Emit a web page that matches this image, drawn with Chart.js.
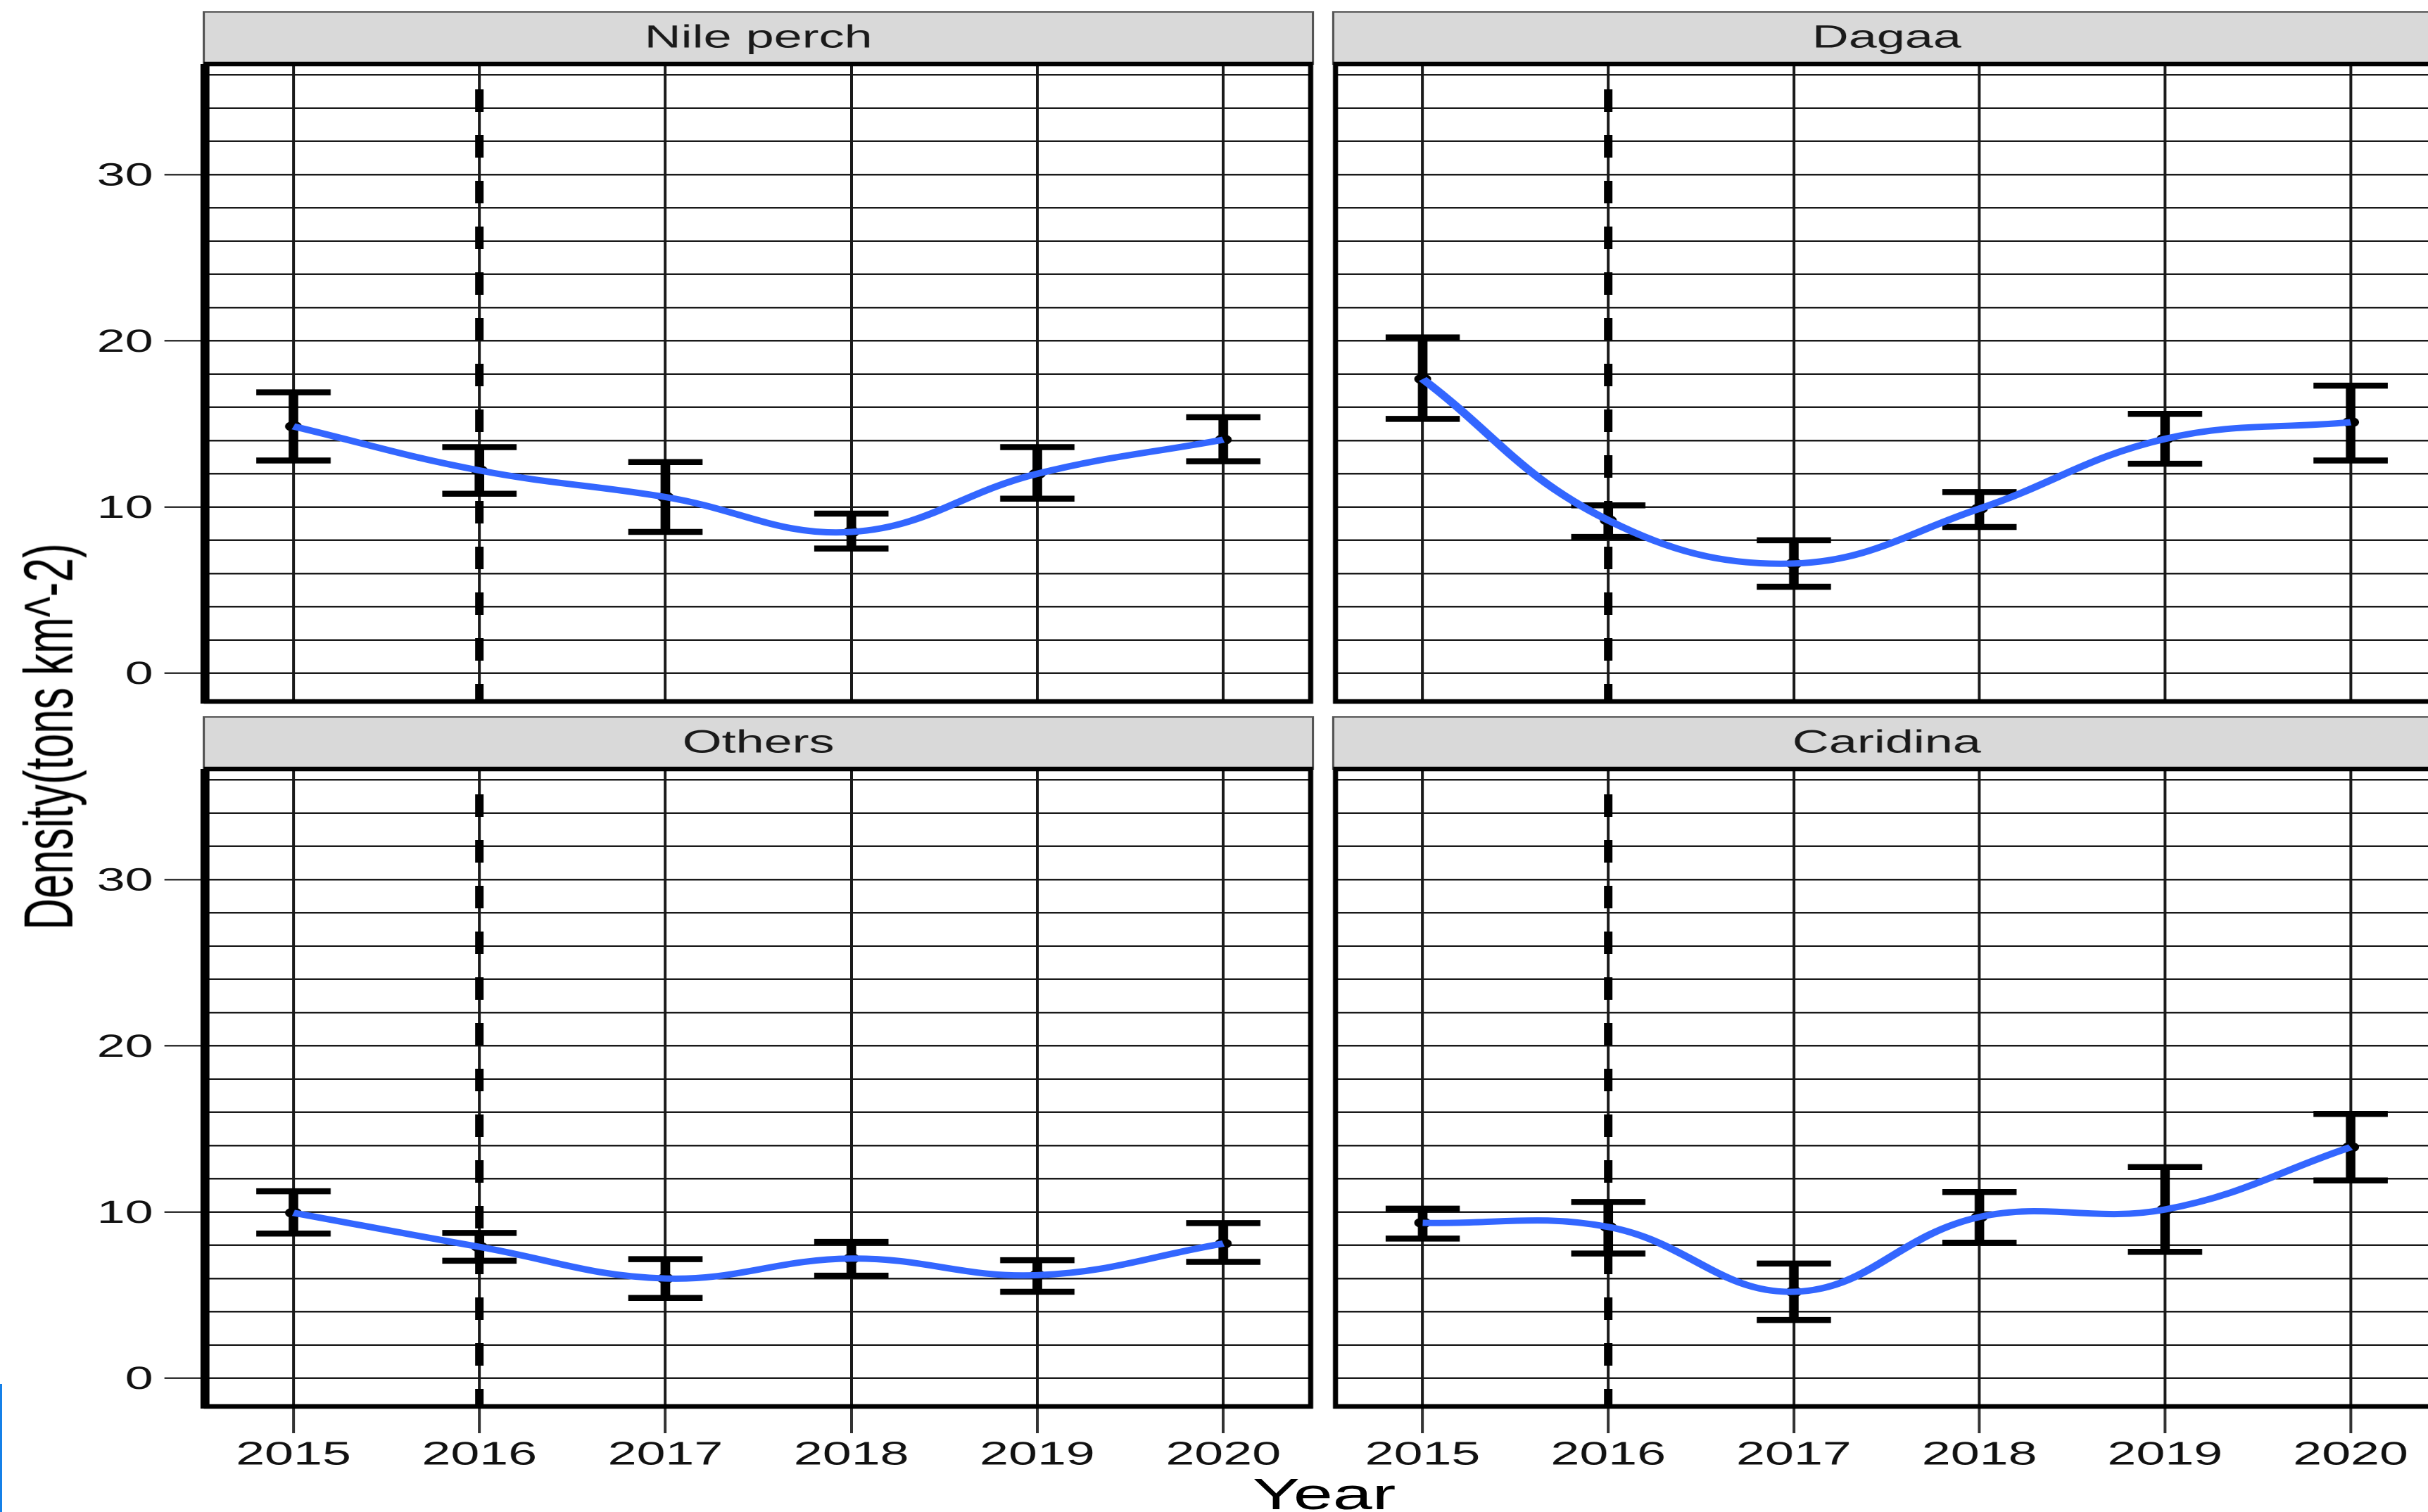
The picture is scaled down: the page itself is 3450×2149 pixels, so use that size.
<!DOCTYPE html>
<html>
<head>
<meta charset="utf-8">
<title>Density by year</title>
<script src="https://cdn.jsdelivr.net/npm/chart.js@4.4.1/dist/chart.umd.min.js"></script>
<style>
  html, body { margin: 0; padding: 0; background: #fff; overflow: hidden; width: 3450px; height: 2149px; }
  /* the source figure is stretched sideways, so the whole frame is too */
  #frame { position: absolute; left: 0; top: 0; width: 2157px; height: 2149px;
           transform: scaleX(1.6); transform-origin: 0 0;
           font-family: 'Liberation Sans', Arial, sans-serif; }
  #frame canvas { position: absolute; }
  .lbl { position: absolute; white-space: nowrap; color: #000; line-height: 1; }
  #ytitle { left: 43px; top: 1047px; font-size: 62px; transform: translate(-50%, -50%) rotate(-90deg); }
  #xtitle { left: 1176px; top: 2092px; font-size: 63px; line-height: 63px; transform: translateX(-50%); }
  #edge { position: absolute; left: 0; top: 1967px; width: 2px; height: 182px; background: #1580e8; }
</style>
</head>
<body>
<div id="frame">
  <canvas id="c-nile"></canvas>
  <canvas id="c-dagaa"></canvas>
  <canvas id="c-others"></canvas>
  <canvas id="c-caridina"></canvas>
  <div class="lbl" id="ytitle">Density(tons km^-2)</div>
  <div class="lbl" id="xtitle">Year</div>
  <div id="edge"></div>
</div>
<script>
// data
const years = [2015, 2016, 2017, 2018, 2019, 2020];
const yGrid = [0, 2, 4, 6, 8, 10, 12, 14, 16, 18, 20, 22, 24, 26, 28, 30, 32, 34, 36];
const yLabels = [0, 10, 20, 30];
const interventionYear = 2016;

const nilePerchMean = [14.85, 12.2, 10.6, 8.5, 12.0, 14.05];
const nilePerchLow  = [12.8, 10.8, 8.5, 7.5, 10.5, 12.75];
const nilePerchHigh = [16.9, 13.6, 12.7, 9.6, 13.6, 15.4];

const dagaaMean = [17.7, 9.2, 6.6, 9.9, 14.1, 15.1];
const dagaaLow  = [15.3, 8.2, 5.2, 8.8, 12.6, 12.8];
const dagaaHigh = [20.2, 10.1, 8.0, 10.9, 15.6, 17.3];

const othersMean = [9.95, 7.9, 6.0, 7.2, 6.2, 8.1];
const othersLow  = [8.7, 7.07, 4.83, 6.17, 5.2, 7.0];
const othersHigh = [11.25, 8.74, 7.16, 8.2, 7.1, 9.33];

const caridinaMean = [9.35, 9.1, 5.2, 9.7, 10.15, 13.9];
const caridinaLow  = [8.4, 7.5, 3.5, 8.15, 7.6, 11.9];
const caridinaHigh = [10.2, 10.6, 6.9, 11.2, 12.7, 15.9];

const xMin = 2014.53, xMax = 2020.47;
const yMin = -1.7, yMax = 36.65;
const capHalf = 0.2;
const font = "'Liberation Sans', Arial, sans-serif";

// strip, dashed line, error bars and panel border
const panelDecor = {
  id: 'panelDecor',
  beforeDraw(chart) {
    const a = chart.chartArea, t = chart.titleBlock, ctx = chart.ctx;
    ctx.save();
    ctx.fillStyle = '#d9d9d9';
    ctx.fillRect(a.left - 2, t.top, a.right - a.left + 4, a.top - t.top);
    ctx.strokeStyle = '#555';
    ctx.lineWidth = 2;
    ctx.strokeRect(a.left - 2, t.top + 1, a.right - a.left + 4, a.top - t.top - 1);
    ctx.restore();
  },
  beforeDatasetsDraw(chart) {
    const ctx = chart.ctx, a = chart.chartArea, x = chart.scales.x, y = chart.scales.y;
    ctx.save();
    const vx = x.getPixelForValue(interventionYear);
    ctx.strokeStyle = '#000';
    ctx.lineWidth = 7.5;
    ctx.setLineDash([32, 33]);
    ctx.beginPath();
    ctx.moveTo(vx, a.top + 36);
    ctx.lineTo(vx, a.bottom);
    ctx.stroke();
    ctx.setLineDash([]);

    const ds = chart.data.datasets.find(d => d.errorLow);
    ctx.lineWidth = 8.5;
    years.forEach((yr, i) => {
      const cx = x.getPixelForValue(yr);
      const x0 = x.getPixelForValue(yr - capHalf), x1 = x.getPixelForValue(yr + capHalf);
      const yl = y.getPixelForValue(ds.errorLow[i]), yh = y.getPixelForValue(ds.errorHigh[i]);
      ctx.beginPath();
      ctx.moveTo(cx, yl); ctx.lineTo(cx, yh);
      ctx.moveTo(x0, yl); ctx.lineTo(x1, yl);
      ctx.moveTo(x0, yh); ctx.lineTo(x1, yh);
      ctx.stroke();
    });
    ctx.restore();
  },
  afterDatasetsDraw(chart, args, opts) {
    const ctx = chart.ctx, a = chart.chartArea;
    ctx.save();
    ctx.strokeStyle = '#000';
    ctx.lineWidth = 6.5;
    ctx.beginPath();
    ctx.moveTo(a.left - 2, a.top); ctx.lineTo(a.right + 2, a.top);
    ctx.moveTo(a.left - 2, a.bottom); ctx.lineTo(a.right + 2, a.bottom);
    ctx.stroke();
    ctx.lineWidth = 4.5;
    ctx.beginPath();
    ctx.moveTo(a.right, a.top); ctx.lineTo(a.right, a.bottom + 3);
    ctx.moveTo(a.left, a.top); ctx.lineTo(a.left, a.bottom + 3);
    ctx.stroke();
    if (opts.thickLeft) {
      ctx.lineWidth = 8;
      ctx.beginPath();
      ctx.moveTo(a.left - 1, a.top); ctx.lineTo(a.left - 1, a.bottom + 3);
      ctx.stroke();
    }
    ctx.restore();
  }
};

function makePanel(id, title, mean, low, high, box) {
  const canvas = document.getElementById(id);
  canvas.width = box.w;
  canvas.height = box.h;
  canvas.style.left = box.x + 'px';
  canvas.style.top = box.y + 'px';

  return new Chart(canvas, {
    type: 'line',
    data: {
      datasets: [{
        label: 'smooth',
        data: years.map((yr, i) => ({ x: yr, y: mean[i] })),
        borderColor: '#3366FF',
        borderWidth: 9,
        tension: 0.4,
        pointRadius: 0,
        fill: false,
        order: 0
      }, {
        label: 'mean',
        data: years.map((yr, i) => ({ x: yr, y: mean[i] })),
        showLine: false,
        pointRadius: 7.5,
        pointBackgroundColor: '#000',
        pointBorderWidth: 0,
        order: 1,
        errorLow: low,
        errorHigh: high
      }]
    },
    options: {
      responsive: false,
      animation: false,
      devicePixelRatio: 2,
      layout: { padding: box.pad },
      plugins: {
        legend: { display: false },
        tooltip: { enabled: false },
        title: {
          display: true,
          text: title,
          fullSize: false,
          color: '#1a1a1a',
          font: { family: font, size: 45, weight: 'normal' },
          padding: { top: 12, bottom: 9 }
        },
        panelDecor: { thickLeft: box.leftAxis }
      },
      scales: {
        x: {
          type: 'linear',
          min: xMin,
          max: xMax,
          afterBuildTicks: s => { s.ticks = years.map(v => ({ value: v })); },
          afterFit: s => {
            s.height = box.bottomAxis ? 100 : 0;
            s.paddingLeft = 0;
            s.paddingRight = 0;
          },
          border: { display: false },
          grid: { color: '#1a1a1a', lineWidth: 2.5, drawTicks: box.bottomAxis, tickLength: 38, tickWidth: 2.5, tickColor: '#333' },
          ticks: {
            display: box.bottomAxis,
            autoSkip: false,
            maxRotation: 0,
            padding: 4,
            color: '#111',
            font: { family: font, size: 46 },
            callback: v => String(v)
          }
        },
        y: {
          min: yMin,
          max: yMax,
          afterBuildTicks: s => { s.ticks = yGrid.map(v => ({ value: v })); },
          afterFit: s => {
            s.width = box.yWidth;
            s.paddingTop = 0;
            s.paddingBottom = 0;
          },
          border: { display: false },
          grid: {
            color: '#1a1a1a',
            lineWidth: 2.5,
            drawTicks: box.leftAxis,
            tickLength: 37,
            tickWidth: 2.5,
            tickColor: c => (c.tick && yLabels.includes(c.tick.value)) ? '#333' : 'rgba(0,0,0,0)'
          },
          ticks: {
            display: box.leftAxis,
            autoSkip: false,
            padding: 10,
            labelOffset: 3,
            color: '#111',
            font: { family: font, size: 45 },
            callback: v => yLabels.includes(v) ? String(v) : ''
          }
        }
      }
    },
    plugins: [panelDecor]
  });
}

makePanel('c-nile', 'Nile perch', nilePerchMean, nilePerchLow, nilePerchHigh,
  { x: 0, y: 0, w: 1172, h: 1005, pad: { top: 16, right: 8, bottom: 8, left: 0 }, yWidth: 183, leftAxis: true, bottomAxis: false });
makePanel('c-dagaa', 'Dagaa', dagaaMean, dagaaLow, dagaaHigh,
  { x: 1178, y: 0, w: 995, h: 1005, pad: { top: 16, right: 8, bottom: 8, left: 0 }, yWidth: 8, leftAxis: false, bottomAxis: false });
makePanel('c-others', 'Others', othersMean, othersLow, othersHigh,
  { x: 0, y: 1000, w: 1172, h: 1099, pad: { top: 18, right: 8, bottom: 0, left: 0 }, yWidth: 183, leftAxis: true, bottomAxis: true });
makePanel('c-caridina', 'Caridina', caridinaMean, caridinaLow, caridinaHigh,
  { x: 1178, y: 1000, w: 995, h: 1099, pad: { top: 18, right: 8, bottom: 0, left: 0 }, yWidth: 8, leftAxis: false, bottomAxis: true });
</script>
</body>
</html>
